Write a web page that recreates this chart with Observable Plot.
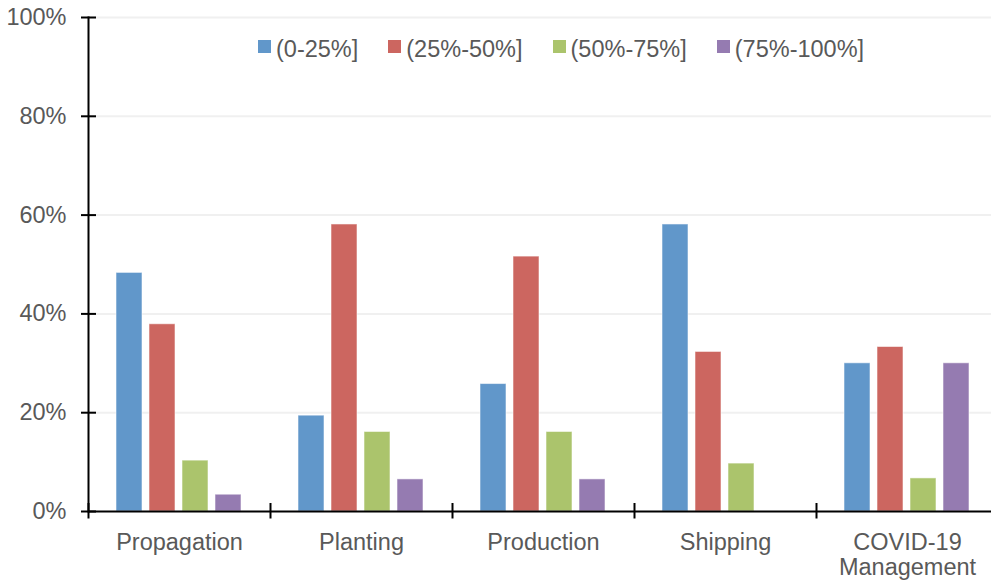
<!DOCTYPE html>
<html><head><meta charset="utf-8">
<script src="https://cdn.jsdelivr.net/npm/d3@7"></script>
<script src="https://cdn.jsdelivr.net/npm/@observablehq/plot@0.6"></script>
<style>
body{margin:0;background:#fff;}
#wrap{position:relative;width:991px;height:582px;overflow:hidden;font-family:Arial,"Liberation Sans",sans-serif;}
#legend{position:absolute;top:36px;left:258px;display:flex;font-size:23.5px;line-height:26px;color:#595959;white-space:nowrap;z-index:2;}
.item{display:flex;align-items:center;margin-right:30px;}
.sw{width:13px;height:13px;margin-right:5px;position:relative;top:-3px;}
</style></head><body><div id="wrap"><div id="legend"></div></div>
<script>
const categories = ["Propagation", "Planting", "Production", "Shipping", "COVID-19\nManagement"];
const ranges = ["(0-25%]", "(25%-50%]", "(50%-75%]", "(75%-100%]"];
const colors = ["#6197ca", "#cc6660", "#abc46c", "#957bb1"];
const tickValues = [0, 20, 40, 60, 80, 100];
const share0_25   = [48.3, 19.4, 25.8, 58.1, 30.0];
const share25_50  = [37.9, 58.1, 51.6, 32.3, 33.3];
const share50_75  = [10.3, 16.1, 16.1, 9.7, 6.7];
const share75_100 = [3.4, 6.5, 6.5, 0, 30.0];

const series = [share0_25, share25_50, share50_75, share75_100];
const table = [];
categories.forEach((c, i) => series.forEach((s, k) => table.push({category: c, range: ranges[k], value: s[i]})));

const W = 991, H = 582, MT = 17, MB = 71, ML = 88, MR = -7;
const plotH = H - MT - MB;
const textColor = "#595959";
const font = "Arial, 'Liberation Sans', sans-serif";

const chart = Plot.plot({
  width: W, height: H,
  marginLeft: ML, marginRight: MR, marginTop: MT, marginBottom: MB,
  style: {fontFamily: font, background: "transparent"},
  fx: {domain: categories, padding: 0, label: null},
  x: {domain: ranges, paddingInner: 0.2, paddingOuter: 0.85, axis: null, label: null},
  y: {domain: [0, 100], label: null},
  color: {domain: ranges, range: colors},
  marks: [
    Plot.ruleY(tickValues.filter(d => d > 0), {stroke: "#f0f0f0", strokeWidth: 2}),
    Plot.barY(table, {fx: "category", x: "range", y: "value", fill: "range", stroke: "white", strokeOpacity: 0.55, strokeWidth: 1}),
    Plot.ruleY([0], {stroke: "black", strokeWidth: 2}),
    Plot.frame({anchor: "left", insetTop: plotH - 7.5, insetBottom: -6, stroke: "black", strokeWidth: 2}),
    Plot.frame({anchor: "left", facetAnchor: "left", stroke: "black", strokeWidth: 2}),
    Plot.axisY({ticks: tickValues, tickSize: 15, dx: 8, tickFormat: () => "", stroke: "black", strokeWidth: 2, label: null}),
    Plot.axisY({ticks: tickValues, tickSize: 0, tickPadding: 22, tickFormat: d => d + "%", fontSize: 23.5, fill: textColor, label: null}),
    Plot.axisFx({anchor: "bottom", tickSize: 0, tickPadding: 21, fontSize: 23.5, fill: textColor, lineHeight: 1.07, label: null})
  ]
});
document.getElementById("wrap").appendChild(chart);

const legend = d3.select("#legend");
ranges.forEach((r, k) => {
  const it = legend.append("div").attr("class", "item");
  it.append("div").attr("class", "sw").style("background", colors[k]);
  it.append("span").text(r);
});
</script>
</body></html>
